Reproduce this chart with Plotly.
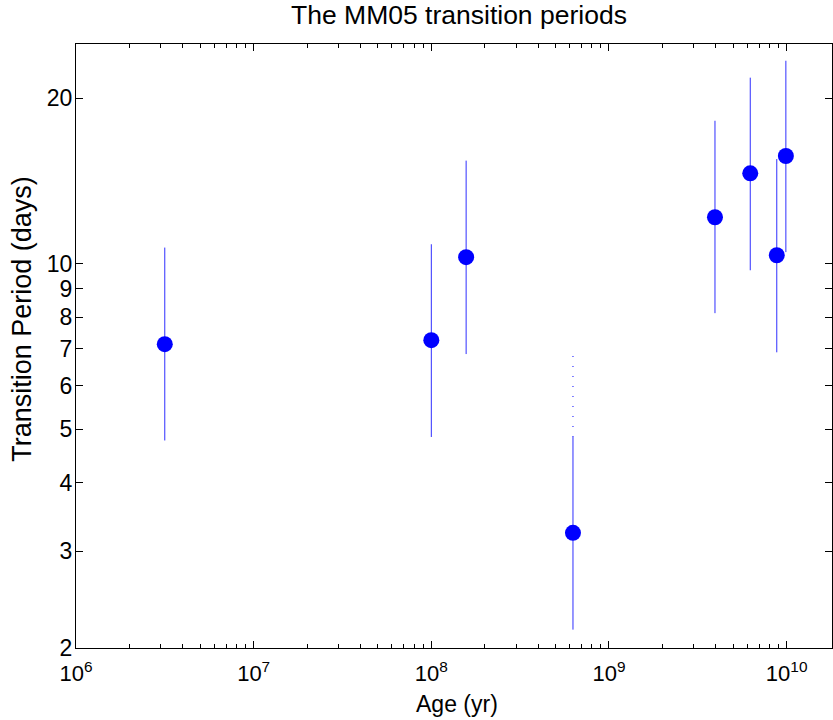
import numpy as np
import plotly.graph_objects as go

# Cluster ages (yr) and MM05 transition periods (days)
age = [3.16e6, 1.0e8, 1.57e8, 6.27e8, 3.95e9, 6.24e9, 8.8e9, 9.9e9]
period = [7.14, 7.26, 10.28, 3.24, 12.15, 14.6, 10.36, 15.7]
period_hi = [10.7, 10.85, 15.4, 4.84, 18.2, 21.8, 15.5, 23.4]
period_lo = [4.77, 4.84, 6.85, 2.16, 8.13, 9.73, 6.9, 10.5]

# extra (dotted) upper range for the ~600 Myr point
dotted_age = [6.27e8, 6.27e8]
dotted_period = [4.84, 6.86]

xtick_vals = [1e6, 1e7, 1e8, 1e9, 1e10]
xtick_text = ["10<sup>6</sup>", "10<sup>7</sup>", "10<sup>8</sup>", "10<sup>9</sup>", "10<sup>10</sup>"]
ytick_vals = [2, 3, 4, 5, 6, 7, 8, 9, 10, 20]

err_plus = [h - p for h, p in zip(period_hi, period)]
err_minus = [p - l for p, l in zip(period, period_lo)]

minor_x = [m * 10 ** e for e in range(6, 11) for m in range(2, 10) if m * 10 ** e < 1.8e10]

fig = go.Figure()
fig.add_trace(go.Scatter(
    x=dotted_age, y=dotted_period, mode="lines",
    line=dict(color="#0000ff", width=1, dash="1px,9px"),
    showlegend=False, hoverinfo="skip"))
fig.add_trace(go.Scatter(
    x=age, y=period, mode="markers",
    marker=dict(color="#0000ff", size=16),
    error_y=dict(type="data", symmetric=False, array=err_plus, arrayminus=err_minus,
                 color="#2f2fff", thickness=1, width=0),
    showlegend=False))

font = "Liberation Sans, Arial, sans-serif"
fig.update_layout(
    width=833, height=720,
    margin=dict(l=76, r=1, t=44, b=72),
    paper_bgcolor="white", plot_bgcolor="white",
    font=dict(family=font, size=22, color="black"),
    title=dict(text="The MM05 transition periods", x=0.5066, xref="paper", xanchor="center",
               y=0.979, yanchor="middle", font=dict(size=26.5)),
)
fig.add_annotation(text="Age (yr)", xref="paper", yref="paper", x=0.504, y=-0.092,
                   xanchor="center", yanchor="middle", showarrow=False, font=dict(size=23))
fig.add_annotation(text="Transition Period (days)", xref="paper", yref="paper",
                   x=-0.0714, y=0.545, textangle=-90,
                   xanchor="center", yanchor="middle", showarrow=False, font=dict(size=27))

fig.update_xaxes(
    type="log", range=[6, np.log10(1.8e10)], automargin=False,
    tickvals=xtick_vals, ticktext=xtick_text, ticklabelstandoff=6,
    ticks="inside", ticklen=7, tickcolor="black",
    minor=dict(tickvals=minor_x, ticks="inside", ticklen=4, tickcolor="black", showgrid=False),
    showline=True, linecolor="black", linewidth=1, mirror="ticks",
    showgrid=False, zeroline=False,
)
fig.update_yaxes(
    type="log", range=[np.log10(2), np.log10(25.1)], automargin=False,
    tickvals=ytick_vals, ticktext=[str(v) for v in ytick_vals],
    tickfont=dict(size=23), ticklabelstandoff=-2,
    ticks="inside", ticklen=7, tickcolor="black",
    showline=True, linecolor="black", linewidth=1, mirror="ticks",
    showgrid=False, zeroline=False,
)

fig.write_html("out.html", config={"displayModeBar": False},
               post_script="document.body.style.margin='0';document.body.style.overflow='hidden';")
